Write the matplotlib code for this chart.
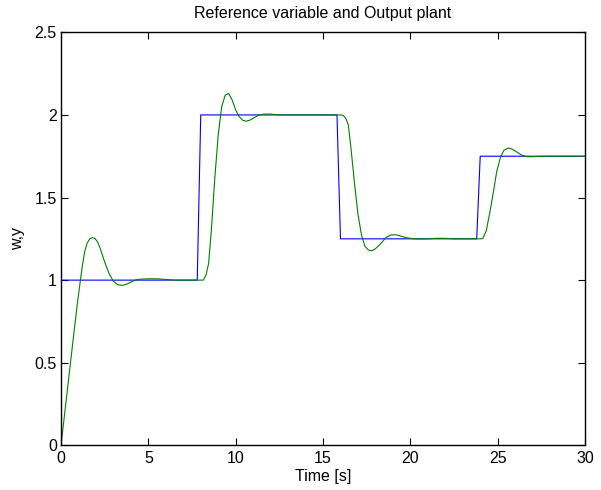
import matplotlib
matplotlib.use("Agg")
import matplotlib.pyplot as plt

# Reference variable w (step sequence)
t_ref = [0, 7.8, 8.0, 15.8, 16.0, 23.8, 24.0, 30]
w_ref = [1, 1, 2, 2, 1.25, 1.25, 1.75, 1.75]

# Plant output y
t_out = [0, 0.25, 0.5, 0.75, 0.95, 1.1, 1.2, 1.35, 1.5, 1.65, 1.8, 1.95, 2.1,
         2.25, 2.5, 2.75, 3.0, 3.25,
         3.5, 3.75, 4.0, 4.25, 4.5, 5.0, 5.5, 6.0, 6.5, 7.0, 7.5, 8.0, 8.15, 8.3,
         8.45, 8.6, 8.8, 9.0, 9.2, 9.4, 9.6, 9.8, 10.0, 10.2, 10.4, 10.6, 10.8,
         11.0, 11.3, 11.6, 12.0, 12.4, 13, 14, 15, 16.0, 16.15, 16.3, 16.45, 16.6,
         16.8, 17.0, 17.2, 17.4, 17.6, 17.8, 18.0, 18.3, 18.6, 18.9, 19.2, 19.5,
         19.8, 20.2, 20.6, 21, 21.5, 22, 22.5, 23, 24.0, 24.15, 24.35, 24.55,
         24.75, 24.95, 25.15, 25.35, 25.6, 25.85, 26.1, 26.4, 26.7, 27.0, 27.3,
         28, 30]
y_out = [0, 0.23, 0.46, 0.69, 0.87, 0.99, 1.07, 1.17, 1.225, 1.25, 1.257, 1.252,
         1.23, 1.19, 1.11, 1.04,
         0.993, 0.972, 0.968, 0.975, 0.988, 1.0, 1.005, 1.008, 1.008, 1.004, 1.0,
         1.0, 1.0, 1.0, 1.0, 1.03, 1.10, 1.29, 1.61, 1.88, 2.05, 2.12, 2.13, 2.09,
         2.03, 1.99, 1.968, 1.962, 1.968, 1.98, 1.998, 2.005, 2.005, 2.001, 2.0,
         2.0, 2.0, 2.0, 1.998, 1.98, 1.94, 1.80, 1.59, 1.40, 1.275, 1.205, 1.182,
         1.178, 1.19, 1.22, 1.258, 1.274, 1.274, 1.265, 1.256, 1.25, 1.249, 1.25,
         1.253, 1.253, 1.25, 1.25, 1.25, 1.252, 1.30, 1.41, 1.53, 1.66, 1.74,
         1.785, 1.80, 1.792, 1.775, 1.755, 1.747, 1.747, 1.749, 1.75, 1.75]

x_ticks = [0, 5, 10, 15, 20, 25, 30]
y_ticks = [0, 0.5, 1, 1.5, 2, 2.5]
y_tick_labels = ["0", "0.5", "1", "1.5", "2", "2.5"]

plt.rcParams['font.family'] = ['Liberation Sans', 'DejaVu Sans']

fig = plt.figure(figsize=(6.01, 4.90), dpi=100)
ax = fig.add_axes([0.1015, 0.0912, 0.8719, 0.8428])

ax.plot(t_ref, w_ref, color='#0000ff', lw=0.8)
ax.plot(t_out, y_out, color='#008000', lw=0.8)

ax.set_xlim(0, 30)
ax.set_ylim(0, 2.5)
ax.set_xticks(x_ticks)
ax.set_yticks(y_ticks)
ax.set_yticklabels(y_tick_labels)
ax.tick_params(direction='in', top=True, right=True, length=5, width=0.8,
               labelsize=11.5)
ax.tick_params(axis='x', pad=4)
ax.tick_params(axis='y', pad=3)
for s in ax.spines.values():
    s.set_linewidth(1.0)

ax.set_title("Reference variable and Output plant", fontsize=11.5, pad=10)
ax.set_xlabel("Time [s]", fontsize=11.5, labelpad=2)
ax.set_ylabel("w,y", fontsize=11.5, labelpad=7)

fig.savefig("out.png", dpi=100)
